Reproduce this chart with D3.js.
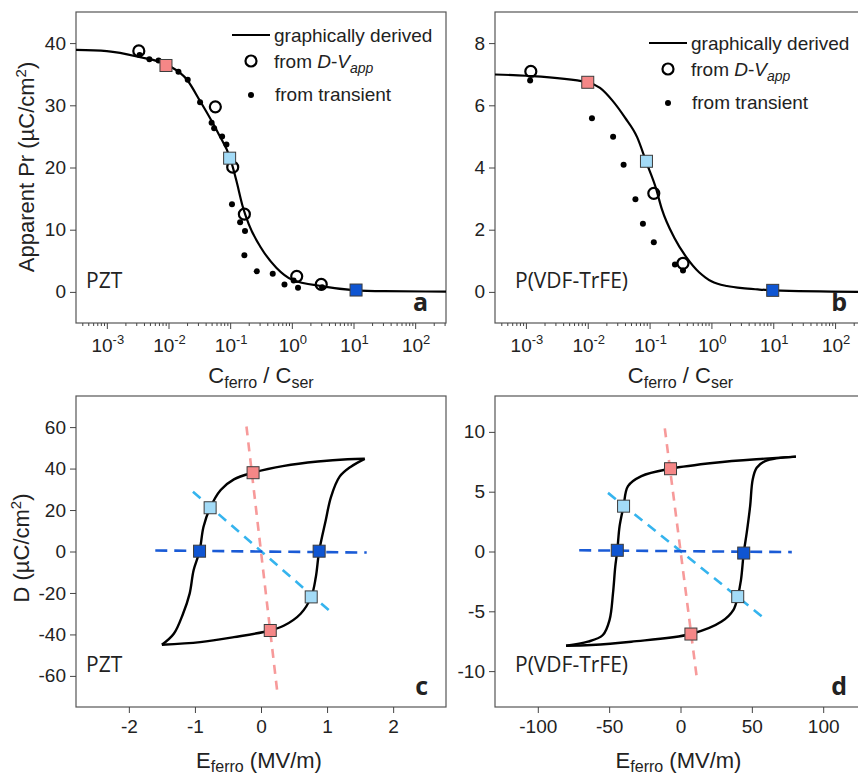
<!DOCTYPE html>
<html>
<head>
<meta charset="utf-8">
<script src="https://cdn.jsdelivr.net/npm/d3@7"></script>
<style>
    body { margin: 0; background: #fff; }
    svg text { font-family: "Liberation Sans", Arial, sans-serif; fill: #222; }
    .tick line { stroke: #444; }
    .tick text { font-size: 19px; fill: #222; }
    .frame { fill: none; stroke: #555; stroke-width: 1.2; }
    .panelName { font-family: "Open Sans", sans-serif; font-size: 21px; }
    .panelLetter { font-family: "Open Sans", sans-serif; font-weight: bold; font-size: 25px; }
    .axisTitle { font-size: 22px; }
    .legendText { font-size: 19px; }
</style>
</head>
<body>
<svg id="chart" width="858" height="774"></svg>
<script>

// ---------- data ----------

// (a) PZT : apparent Pr (uC/cm2) vs Cferro/Cser
let pztCurveRatio = [3.16e-4, 1e-3, 3.2e-3, 1e-2, 2e-2, 3.2e-2, 6.5e-2, 1e-1, 1.26e-1, 1.58e-1, 2e-1, 3.16e-1, 5.6e-1, 1, 3.16, 10, 31.6, 316];
let pztCurvePr    = [38.9, 38.7, 37.8, 36.4, 34.1, 30.8, 25.4, 21.5, 17.9, 13.9, 10.9, 7.1, 3.9, 2.0, 0.9, 0.3, 0.12, 0.05];
let pztDvRatio = [3.3e-3, 5.75e-2, 0.11, 0.17, 1.2, 3.0];
let pztDvPr    = [38.75, 29.75, 20.05, 12.5, 2.5, 1.2];
let pztTrRatio = [3.4e-3, 4.9e-3, 6.9e-3, 1.45e-2, 2.05e-2, 3.25e-2, 5.0e-2, 5.5e-2, 7.4e-2, 8.7e-2, 0.107, 0.145, 0.174, 0.17, 0.27, 0.49, 0.76, 1.07, 1.26, 3.1];
let pztTrPr    = [38.1, 37.4, 37.2, 35.4, 34.1, 30.5, 27.2, 26.3, 25.0, 23.7, 14.1, 11.2, 9.8, 5.9, 3.3, 2.9, 1.2, 1.85, 0.65, 0.76];
let pztSqRatio = [0.0091, 0.098, 11];
let pztSqPr    = [36.4, 21.5, 0.3];

// (b) P(VDF-TrFE)
let pvdfCurveRatio = [3.16e-4, 1e-3, 1e-2, 1.58e-2, 2.51e-2, 3.98e-2, 6.31e-2, 8.9e-2, 0.126, 0.158, 0.251, 0.398, 0.631, 0.794, 1, 1.26, 1.78, 3.16, 5.6, 10, 316];
let pvdfCurvePr    = [6.99, 6.95, 6.74, 6.56, 6.15, 5.61, 4.97, 4.16, 3.35, 2.66, 1.74, 1.10, 0.63, 0.47, 0.34, 0.26, 0.19, 0.12, 0.08, 0.05, 0.0];
let pvdfDvRatio = [1.2e-3, 0.117, 0.347];
let pvdfDvPr    = [7.09, 3.17, 0.92];
let pvdfTrRatio = [1.17e-3, 1.17e-2, 2.57e-2, 3.8e-2, 5.9e-2, 7.8e-2, 0.117, 0.257, 0.347];
let pvdfTrPr    = [6.80, 5.58, 4.99, 4.09, 2.98, 2.19, 1.60, 0.88, 0.69];
let pvdfSqRatio = [1e-2, 8.9e-2, 9.8];
let pvdfSqPr    = [6.74, 4.2, 0.05];

// marker colour key, same order as the square arrays
let squareKeys = ["pink", "light", "dark"];

// (c) PZT D-E loop
let pztUpE = [-1.5, -1.32, -1.18, -1.08, -1.02, -0.93, -0.87, -0.77, -0.61, -0.41, -0.12, 0.35, 0.86, 1.31, 1.57];
let pztUpD = [-45, -39.7, -30, -20.3, -9, 0.15, 11.9, 21.1, 29.7, 34.8, 38.0, 41.3, 43.4, 44.5, 44.7];
let pztDownE = [1.57, 1.36, 1.19, 1.06, 0.98, 0.88, 0.83, 0.76, 0.6, 0.35, 0.14, -0.41, -0.92, -1.5];
let pztDownD = [44.7, 40.9, 36.1, 26.4, 15.1, 0.15, -12.3, -21.9, -30, -35.7, -38.1, -41.3, -43.7, -45];
let pztLoadE = {dark: [-1.6, 1.6], light: [-1.03, 1.06], pink: [-0.22, 0.25]};
let pztLoadD = {dark: [0.5, -0.5], light: [28.8, -29.2], pink: [60.3, -68.7]};
let pztPointE = [-0.12, 0.14, -0.77, 0.76, -0.93, 0.88];
let pztPointD = [38.0, -38.1, 21.1, -21.9, 0.15, 0.15];

// (d) P(VDF-TrFE) D-E loop
let pvdfUpE = [-80.2, -64.9, -54.4, -49.7, -47.3, -45.7, -44.3, -42.7, -39.9, -36.8, -27.4, -7.0, 24.1, 59.3, 80.9];
let pvdfUpD = [-7.88, -7.54, -6.98, -5.72, -3.48, -1.25, 0.07, 2.1, 3.79, 5.46, 6.3, 6.92, 7.42, 7.76, 7.93];
let pvdfDownE = [80.9, 59.3, 53.4, 50.6, 48.8, 46.4, 44.3, 42.4, 40.1, 37.1, 28.8, 7.3, -34.5, -62.6, -80.2];
let pvdfDownD = [7.93, 7.56, 7.0, 6.02, 3.79, 1.55, -0.13, -2.37, -3.77, -4.88, -5.86, -6.9, -7.54, -7.82, -7.88];
let pvdfLoadE = {dark: [-71, 78], light: [-50.8, 58.6], pink: [-11, 11.25]};
let pvdfLoadD = {dark: [0.1, -0.05], light: [4.9, -5.58], pink: [10.3, -10.4]};
let pvdfPointE = [-7.0, 7.3, -39.9, 40.1, -44.3, 44.3];
let pvdfPointD = [6.92, -6.9, 3.79, -3.77, 0.1, -0.13];
let loopKeys = ["pink", "pink", "light", "light", "dark", "dark"];

// axis ticks
let logDecades = [-3, -2, -1, 0, 1, 2];
let pztPrTicks = [0, 10, 20, 30, 40];
let pvdfPrTicks = [0, 2, 4, 6, 8];
let pztETicks = [-2, -1, 0, 1, 2];
let pztDTicks = [-60, -40, -20, 0, 20, 40, 60];
let pvdfETicks = [-100, -50, 0, 50, 100];
let pvdfDTicks = [-10, -5, 0, 5, 10];

// ---------- colours ----------
let squareFill = {pink: "#f58787", light: "#a3dbf7", dark: "#0f55d2"};
let dashColor = {pink: "#f79a9a", light: "#35b4ee", dark: "#1a5bd6"};
let dashPattern = {pink: "9,7", light: "10,7", dark: "12,7"};

let svg = d3.select("#chart");

// frame boxes of the four panels
let boxA = {left: 76, right: 446, top: 12, bottom: 323};
let boxB = {left: 495, right: 866, top: 12, bottom: 323};
let boxC = {left: 76, right: 446, top: 396, bottom: 707};
let boxD = {left: 495, right: 866, top: 396, bottom: 707};

// plain hyphen for negative numbers, as in the original
let plainFormat = d => String(d);

function zip(a, b) {
    return a.map((v, i) => [v, b[i]]);
}

function drawFrame(box) {
    svg.append("rect")
        .attr("class", "frame")
        .attr("x", box.left)
        .attr("y", box.top)
        .attr("width", box.right - box.left)
        .attr("height", box.bottom - box.top);
}

function yAxis(box, y, ticks) {
    svg.append("g")
        .attr("transform", `translate(${box.left},0)`)
        .call(d3.axisLeft(y).tickValues(ticks).tickSize(6).tickPadding(4).tickFormat(plainFormat))
        .call(g => g.select(".domain").remove());
}

function linearXAxis(box, x, ticks) {
    svg.append("g")
        .attr("transform", `translate(0,${box.bottom})`)
        .call(d3.axisBottom(x).tickValues(ticks).tickSize(6).tickPadding(7).tickFormat(plainFormat))
        .call(g => g.select(".domain").remove());
}

function logXAxis(box, x) {
    let lo = x.domain()[0], hi = x.domain()[1];
    let minor = [];
    for (let e = -4; e <= 2; e++) {
        for (let k = 2; k < 10; k++) {
            let v = k * Math.pow(10, e);
            if (v >= lo && v <= hi) minor.push(v);
        }
    }
    svg.append("g")
        .attr("transform", `translate(0,${box.bottom})`)
        .call(d3.axisBottom(x).tickValues(minor).tickSize(3).tickFormat(""))
        .call(g => g.select(".domain").remove());
    svg.append("g")
        .attr("transform", `translate(0,${box.bottom})`)
        .call(d3.axisBottom(x).tickValues(logDecades.map(e => Math.pow(10, e))).tickSize(6).tickFormat(""))
        .call(g => g.select(".domain").remove());

    // 10^n labels
    logDecades.forEach(function(e) {
        let t = svg.append("text")
            .attr("x", x(Math.pow(10, e)) + 1)
            .attr("y", box.bottom + 29)
            .attr("text-anchor", "middle")
            .style("font-size", "19px");
        t.append("tspan").text("10");
        t.append("tspan").attr("dy", -8).style("font-size", "13px").text(e);
    });

    // C_ferro / C_ser
    let title = svg.append("text")
        .attr("class", "axisTitle")
        .attr("x", (box.left + box.right) / 2)
        .attr("y", box.bottom + 60)
        .attr("text-anchor", "middle");
    title.append("tspan").text("C");
    title.append("tspan").attr("dy", 5).style("font-size", "16px").text("ferro");
    title.append("tspan").attr("dy", -5).text(" / C");
    title.append("tspan").attr("dy", 5).style("font-size", "16px").text("ser");
}

function eTitle(box) {
    let title = svg.append("text")
        .attr("class", "axisTitle")
        .attr("x", (box.left + box.right) / 2 - 2)
        .attr("y", box.bottom + 61)
        .attr("text-anchor", "middle");
    title.append("tspan").text("E");
    title.append("tspan").attr("dy", 4).style("font-size", "16px").text("ferro");
    title.append("tspan").attr("dy", -4).text(" (MV/m)");
}

function squares(x, y, xs, ys, keys) {
    svg.append("g").selectAll("rect")
        .data(zip(xs, ys).map((d, i) => ({x: d[0], y: d[1], key: keys[i]})))
        .join("rect")
        .attr("x", d => x(d.x) - 6)
        .attr("y", d => y(d.y) - 6)
        .attr("width", 12)
        .attr("height", 12)
        .style("fill", d => squareFill[d.key])
        .style("stroke", "#3c3c3c")
        .style("stroke-width", 1);
}

function labels(box, name, letter, nameX) {
    svg.append("text")
        .attr("class", "panelName")
        .attr("x", nameX)
        .attr("y", box.bottom - 35)
        .text(name);
    svg.append("text")
        .attr("class", "panelLetter")
        .attr("x", box.left + 352)
        .attr("y", box.bottom - 12)
        .attr("text-anchor", "end")
        .text(letter);
}

function legend(lx, ly) {
    svg.append("line")
        .attr("x1", lx).attr("x2", lx + 38)
        .attr("y1", ly).attr("y2", ly)
        .style("stroke", "#000").style("stroke-width", 2.2);
    svg.append("text").attr("class", "legendText")
        .attr("x", lx + 42).attr("y", ly + 7)
        .text("graphically derived");

    svg.append("circle")
        .attr("cx", lx + 19).attr("cy", ly + 26).attr("r", 5.5)
        .style("fill", "none").style("stroke", "#000").style("stroke-width", 2.2);
    let t = svg.append("text").attr("class", "legendText")
        .attr("x", lx + 42).attr("y", ly + 33);
    t.append("tspan").text("from ");
    t.append("tspan").style("font-style", "italic").text("D");
    t.append("tspan").text("-");
    t.append("tspan").style("font-style", "italic").text("V");
    t.append("tspan").style("font-style", "italic").style("font-size", "14px").attr("dy", 5).text("app");

    svg.append("circle")
        .attr("cx", lx + 19).attr("cy", ly + 60).attr("r", 3)
        .style("fill", "#000");
    svg.append("text").attr("class", "legendText")
        .attr("x", lx + 43).attr("y", ly + 66)
        .text("from transient");
}

// ---------- top panels: apparent Pr ----------
function prPanel(box, yDomain, yTicks, curveX, curveY, dvX, dvY, trX, trY, sqX, sqY) {
    let x = d3.scaleLog().domain([Math.pow(10, -3.5), Math.pow(10, 2.5)]).range([box.left, box.right]);
    let y = d3.scaleLinear().domain(yDomain).range([box.bottom, box.top]);

    drawFrame(box);
    yAxis(box, y, yTicks);
    logXAxis(box, x);

    let line = d3.line()
        .x(d => x(d[0]))
        .y(d => y(d[1]))
        .curve(d3.curveMonotoneX);

    svg.append("path")
        .datum(zip(curveX, curveY))
        .attr("d", line)
        .style("fill", "none")
        .style("stroke", "#000")
        .style("stroke-width", 2.2);

    svg.append("g").selectAll("circle")
        .data(zip(trX, trY))
        .join("circle")
        .attr("cx", d => x(d[0]))
        .attr("cy", d => y(d[1]))
        .attr("r", 3)
        .style("fill", "#000");

    svg.append("g").selectAll("circle")
        .data(zip(dvX, dvY))
        .join("circle")
        .attr("cx", d => x(d[0]))
        .attr("cy", d => y(d[1]))
        .attr("r", 5.5)
        .style("fill", "none")
        .style("stroke", "#000")
        .style("stroke-width", 2.2);

    squares(x, y, sqX, sqY, squareKeys);
}

// ---------- bottom panels: D-E loops ----------
function loopPanel(box, xDomain, yDomain, xTicks, yTicks, upE, upD, downE, downD, loadE, loadD, ptE, ptD) {
    let x = d3.scaleLinear().domain(xDomain).range([box.left, box.right]);
    let y = d3.scaleLinear().domain(yDomain).range([box.bottom, box.top]);

    drawFrame(box);
    yAxis(box, y, yTicks);
    linearXAxis(box, x, xTicks);
    eTitle(box);

    // load lines
    ["pink", "light", "dark"].forEach(function(k) {
        svg.append("line")
            .attr("x1", x(loadE[k][0])).attr("y1", y(loadD[k][0]))
            .attr("x2", x(loadE[k][1])).attr("y2", y(loadD[k][1]))
            .style("stroke", dashColor[k])
            .style("stroke-width", 2.6)
            .style("stroke-dasharray", dashPattern[k]);
    });

    let line = d3.line()
        .x(d => x(d[0]))
        .y(d => y(d[1]))
        .curve(d3.curveCatmullRom.alpha(0.5));

    [zip(upE, upD), zip(downE, downD)].forEach(function(branch) {
        svg.append("path")
            .datum(branch)
            .attr("d", line)
            .style("fill", "none")
            .style("stroke", "#000")
            .style("stroke-width", 2.4)
            .style("stroke-linejoin", "round");
    });

    squares(x, y, ptE, ptD, loopKeys);
}

prPanel(boxA, [-5, 45], pztPrTicks, pztCurveRatio, pztCurvePr, pztDvRatio, pztDvPr, pztTrRatio, pztTrPr, pztSqRatio, pztSqPr);
prPanel(boxB, [-1, 9], pvdfPrTicks, pvdfCurveRatio, pvdfCurvePr, pvdfDvRatio, pvdfDvPr, pvdfTrRatio, pvdfTrPr, pvdfSqRatio, pvdfSqPr);
loopPanel(boxC, [-2.8, 2.8], [-75, 75], pztETicks, pztDTicks, pztUpE, pztUpD, pztDownE, pztDownD, pztLoadE, pztLoadD, pztPointE, pztPointD);
loopPanel(boxD, [-130, 130], [-13, 13], pvdfETicks, pvdfDTicks, pvdfUpE, pvdfUpD, pvdfDownE, pvdfDownD, pvdfLoadE, pvdfLoadD, pvdfPointE, pvdfPointD);

legend(232, 35);
legend(649, 43);

labels(boxA, "PZT", "a", 86);
labels(boxB, "P(VDF-TrFE)", "b", 515);
labels(boxC, "PZT", "c", 86);
labels(boxD, "P(VDF-TrFE)", "d", 515);

// y axis titles
let prTitle = svg.append("text")
    .attr("class", "axisTitle")
    .attr("transform", "translate(34,167) rotate(-90)")
    .attr("text-anchor", "middle");
prTitle.append("tspan").text("Apparent Pr (\u00b5C/cm");
prTitle.append("tspan").attr("dy", -8).style("font-size", "15px").text("2");
prTitle.append("tspan").attr("dy", 8).text(")");

let dTitle = svg.append("text")
    .attr("class", "axisTitle")
    .attr("transform", "translate(29,548) rotate(-90)")
    .attr("text-anchor", "middle");
dTitle.append("tspan").text("D (\u00b5C/cm");
dTitle.append("tspan").attr("dy", -8).style("font-size", "15px").text("2");
dTitle.append("tspan").attr("dy", 8).text(")");

</script>
</body>
</html>
